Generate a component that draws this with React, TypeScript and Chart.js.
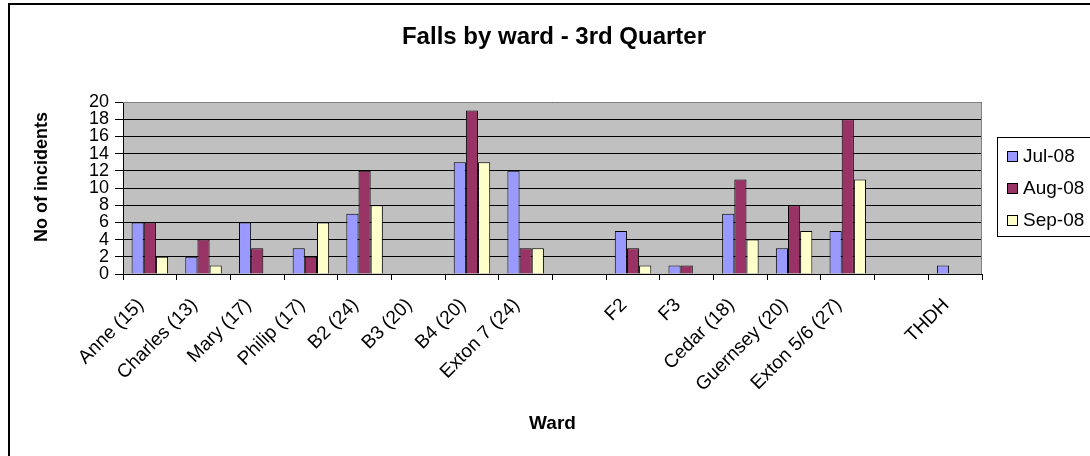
import { useEffect, useRef } from "react";
import { Chart, registerables } from "chart.js";

Chart.register(...registerables);

const wards = [
  "Anne (15)",
  "Charles (13)",
  "Mary (17)",
  "Philip (17)",
  "B2 (24)",
  "B3 (20)",
  "B4 (20)",
  "Exton 7 (24)",
  "",
  "F2",
  "F3",
  "Cedar (18)",
  "Guernsey (20)",
  "Exton 5/6 (27)",
  "",
  "THDH",
];
const jul08 = [6, 2, 6, 3, 7, 0, 13, 12, 0, 5, 1, 7, 3, 5, 0, 1];
const aug08 = [6, 4, 3, 2, 12, 0, 19, 3, 0, 3, 1, 11, 8, 18, 0, 0];
const sep08 = [2, 1, 0, 6, 8, 0, 13, 3, 0, 1, 0, 4, 5, 11, 0, 0];
const seriesNames = ["Jul-08", "Aug-08", "Sep-08"];
const seriesColors = ["#9999FF", "#993366", "#FFFFCC"];
const yMax = 20;
const yStep = 2;
const chartTitle = "Falls by ward - 3rd Quarter";
const yTitle = "No of incidents";
const xTitle = "Ward";

const FONT = "Arial, 'Liberation Sans', sans-serif";

const decorPlugin = {
  id: "decor",
  beforeDraw(chart: any) {
    const { ctx, chartArea } = chart;
    ctx.save();
    ctx.fillStyle = "#ffffff";
    ctx.fillRect(0, 0, chart.width, chart.height);
    ctx.fillStyle = "#C0C0C0";
    ctx.fillRect(chartArea.left, chartArea.top, chartArea.right - chartArea.left, chartArea.bottom - chartArea.top);
    ctx.restore();
  },
  afterDatasetsDraw(chart: any) {
    const { ctx, chartArea } = chart;
    ctx.save();
    ctx.strokeStyle = "#808080";
    ctx.lineWidth = 1;
    ctx.beginPath();
    ctx.moveTo(chartArea.left, Math.round(chartArea.top) + 0.5);
    ctx.lineTo(Math.round(chartArea.right) - 0.5, Math.round(chartArea.top) + 0.5);
    ctx.lineTo(Math.round(chartArea.right) - 0.5, chartArea.bottom);
    ctx.stroke();
    ctx.restore();
  },
  afterDraw(chart: any) {
    const { ctx, chartArea } = chart;
    ctx.save();
    // outer frame (left and top edges visible)
    ctx.fillStyle = "#000000";
    ctx.fillRect(8, 3, 2, chart.height - 3);
    ctx.fillRect(8, 3, chart.width - 8, 2);

    // chart title
    ctx.fillStyle = "#000000";
    ctx.font = `bold 24px ${FONT}`;
    ctx.textAlign = "center";
    ctx.textBaseline = "alphabetic";
    ctx.fillText(chartTitle, 554, 44);

    // y axis title
    ctx.save();
    ctx.translate(42, 177);
    ctx.rotate(-Math.PI / 2);
    ctx.font = `bold 18px ${FONT}`;
    ctx.textAlign = "center";
    ctx.textBaseline = "middle";
    ctx.fillText(yTitle, 0, 0);
    ctx.restore();

    // x axis title
    ctx.font = `bold 19px ${FONT}`;
    ctx.textAlign = "center";
    ctx.textBaseline = "middle";
    ctx.fillText(xTitle, (chartArea.left + chartArea.right) / 2, 424);

    // legend
    const bx = 997;
    const by = 137;
    const bw = 96;
    const bh = 99;
    ctx.strokeStyle = "#000000";
    ctx.lineWidth = 1;
    ctx.strokeRect(bx + 0.5, by + 0.5, bw, bh);
    ctx.font = `19px ${FONT}`;
    ctx.textBaseline = "middle";
    ctx.textAlign = "left";
    chart.data.datasets.forEach((ds: any, i: number) => {
      const cy = 156 + i * 32;
      ctx.fillStyle = ds.backgroundColor;
      ctx.fillRect(1007, cy - 5, 10, 10);
      ctx.strokeStyle = "#000000";
      ctx.strokeRect(1007.5, cy - 5 + 0.5, 10, 10);
      ctx.fillStyle = "#000000";
      ctx.fillText(ds.label, 1023, cy + 1);
    });
    ctx.restore();
  },
};

export default function App() {
  const ref = useRef<HTMLCanvasElement | null>(null);

  useEffect(() => {
    if (!ref.current) return;
    const chart = new Chart(ref.current, {
      type: "bar",
      data: {
        labels: wards,
        datasets: [jul08, aug08, sep08].map((d, i) => ({
          label: seriesNames[i],
          data: d,
          backgroundColor: seriesColors[i],
          borderColor: "#000000",
          borderWidth: 1,
          categoryPercentage: 0.68,
          barPercentage: 1.0,
        })),
      },
      options: {
        animation: false,
        responsive: false,
        devicePixelRatio: 1,
        layout: { padding: { left: 0, right: 108, top: 102, bottom: 0 } },
        plugins: {
          legend: { display: false },
          tooltip: { enabled: false },
          title: { display: false },
        },
        scales: {
          x: {
            grid: {
              offset: true,
              drawOnChartArea: false,
              drawTicks: true,
              tickLength: 6,
              color: "#000000",
            },
            border: { color: "#000000", width: 1 },
            ticks: {
              color: "#000000",
              font: { family: FONT, size: 19 },
              minRotation: 45,
              maxRotation: 45,
              autoSkip: false,
              padding: 14,
              labelOffset: -9,
            },
            afterFit(scale: any) {
              scale.height = 182;
            },
          },
          y: {
            min: 0,
            max: yMax,
            grid: {
              color: "#000000",
              tickLength: 8,
              lineWidth: 1,
            },
            border: { color: "#000000", width: 1 },
            ticks: {
              stepSize: yStep,
              color: "#000000",
              font: { family: FONT, size: 18 },
              autoSkip: false,
              padding: 6,
            },
            afterFit(scale: any) {
              scale.width = 123;
            },
          },
        },
      },
      plugins: [decorPlugin],
    } as any);
    return () => chart.destroy();
  }, []);

  return (
    <div style={{ position: "fixed", left: 0, top: 0, width: 1090, height: 456, background: "#ffffff" }}>
      <canvas ref={ref} width={1090} height={456} style={{ display: "block", width: 1090, height: 456 }} />
    </div>
  );
}
